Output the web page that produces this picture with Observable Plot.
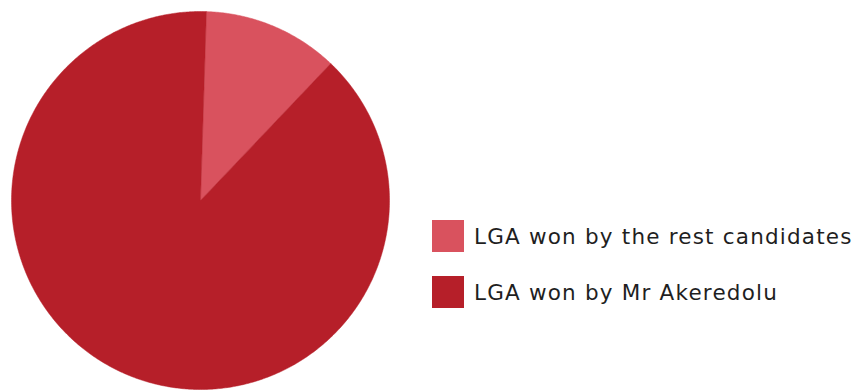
<!DOCTYPE html>
<html>
<head>
<meta charset="utf-8">
<script src="https://cdn.jsdelivr.net/npm/d3@7"></script>
<script src="https://cdn.jsdelivr.net/npm/@observablehq/plot@0.6"></script>
<style>
  html, body { margin: 0; padding: 0; background: #fff; }
  #wrap { position: relative; width: 856px; height: 390px; overflow: hidden; }
  #legend { position: absolute; left: 432px; top: 220px; font-family: "DejaVu Sans", sans-serif; font-size: 21.5px; letter-spacing: 1.2px; color: #1f1f1f; }
  .item { display: flex; align-items: center; height: 32px; margin-bottom: 24px; white-space: nowrap; }
  .sw { width: 32px; height: 32px; margin-right: 10px; flex: none; }
</style>
</head>
<body>
<div id="wrap"><div id="chart"></div><div id="legend"></div></div>
<script>
const categories = ["LGA won by the rest candidates", "LGA won by Mr Akeredolu"];
const values = [11.6, 88.4];
const colors = ["#d9525e", "#b61f29"];
const startAngleDeg = 1.8;

const pie = d3.pie().sort(null).startAngle(startAngleDeg * Math.PI / 180).endAngle((startAngleDeg + 360) * Math.PI / 180);
const arcs = pie(values);
const pts = [];
arcs.forEach((a, i) => {
  const n = Math.max(4, Math.ceil((a.endAngle - a.startAngle) / (Math.PI / 360)));
  pts.push({cat: categories[i], x: 0, y: 0});
  for (let k = 0; k <= n; k++) {
    const t = a.startAngle + (a.endAngle - a.startAngle) * k / n;
    pts.push({cat: categories[i], x: Math.sin(t), y: Math.cos(t)});
  }
  pts.push({cat: categories[i], x: 0, y: 0});
});

const chart = Plot.plot({
  width: 856,
  height: 390,
  margin: 0,
  x: {domain: [-1, 1], range: [11, 389], axis: null},
  y: {domain: [-1, 1], range: [389, 11], axis: null},
  color: {domain: categories, range: colors},
  marks: [
    Plot.line(pts, {x: "x", y: "y", z: "cat", fill: "cat", stroke: "cat", strokeWidth: 0.5, curve: "linear"})
  ]
});
document.getElementById("chart").appendChild(chart);

const legend = document.getElementById("legend");
categories.forEach((c, i) => {
  const item = document.createElement("div");
  item.className = "item";
  const sw = document.createElement("div");
  sw.className = "sw";
  sw.style.background = colors[i];
  const label = document.createElement("span");
  label.textContent = c;
  item.appendChild(sw);
  item.appendChild(label);
  legend.appendChild(item);
});
</script>
</body>
</html>
